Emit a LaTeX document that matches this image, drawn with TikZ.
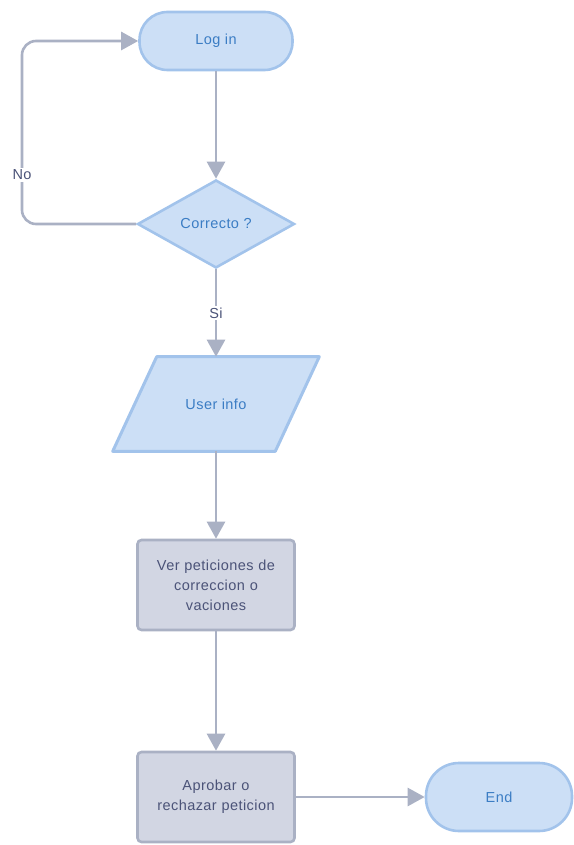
\documentclass[tikz,border=0pt]{standalone}
\usepackage{fontspec}
\setmainfont{Liberation Sans}[LetterSpace=3]
\usepackage{tikz}
\usetikzlibrary{positioning}
\usetikzlibrary{arrows.meta,shapes.geometric,backgrounds}

\definecolor{boxblue}{HTML}{CCDFF6}
\definecolor{lineblue}{HTML}{A2C3EB}
\definecolor{textblue}{HTML}{3B7DC4}
\definecolor{boxgray}{HTML}{D2D6E3}
\definecolor{linegray}{HTML}{AAB1C4}
\definecolor{textgray}{HTML}{4B5378}

\begin{document}
\begin{tikzpicture}[->,>={Triangle[width=18pt,length=17pt]},
                    line width=2.6pt,draw=linegray,color=linegray,
                    node distance=181pt,
                    font=\fontsize{14.5}{20}\selectfont]
  \tikzstyle{every node}=[line width=2.6pt]
  \tikzstyle{terminal}=[rectangle,rounded corners=28pt,fill=boxblue,draw=lineblue,
                        text=textblue,minimum width=153pt,minimum height=58pt]
  \tikzstyle{decision}=[diamond,aspect=1.78,fill=boxblue,draw=lineblue,text=textblue,
                        minimum width=157pt,minimum height=88pt,inner sep=0pt]
  \tikzstyle{io}=[rectangle,text=textblue,minimum width=160pt,minimum height=92pt]
  \tikzstyle{process}=[rectangle,rounded corners=4pt,fill=boxgray,draw=linegray,
                       text=textgray,minimum width=157pt,minimum height=90pt,
                       text width=145pt,align=center]
  \tikzstyle{lbl}=[fill=white,text=textgray,inner sep=2pt]

  \useasboundingbox (0,0) rectangle (573pt,-845pt);

  \node[terminal]  (login) at (216pt,-41pt)      {Log in};
  \node[decision]  (corr)  [below of=login,node distance=183pt] {Correcto ?};
  \node[io]        (info)  [below of=corr,node distance=180pt]  {User info};
  \node[process]   (ver)   [below of=info]       {Ver peticiones de\\correccion o\\vaciones};
  \node[process]   (aprob) [below of=ver,node distance=212pt] {Aprobar o\\rechazar peticion};
  \node[terminal,minimum width=146pt,minimum height=68pt,rounded corners=33pt]
                   (fin)   [right of=aprob,node distance=283pt] {End};

  % parallelogram behind the text
  \begin{scope}[on background layer]
    \draw[-,fill=boxblue,draw=lineblue,line width=3pt,line join=round]
      ([xshift=22pt]info.north west) -- ([xshift=22pt]info.north east)
      -- ([xshift=-22pt]info.south east) -- ([xshift=-22pt]info.south west) -- cycle;
  \end{scope}

  \coordinate (noturn) at (22pt,-224pt);

  \draw (login) -- (corr);
  \draw[rounded corners=14pt] (corr.west) -- (noturn) |- (login.west);
  \node[lbl] (no) at (22pt,-175pt) {No};
  \draw (corr) -- node[lbl] {Si} (info);
  \draw (info) -- (ver);
  \draw (ver) -- (aprob);
  \draw (aprob) -- (fin);
\end{tikzpicture}
\end{document}
